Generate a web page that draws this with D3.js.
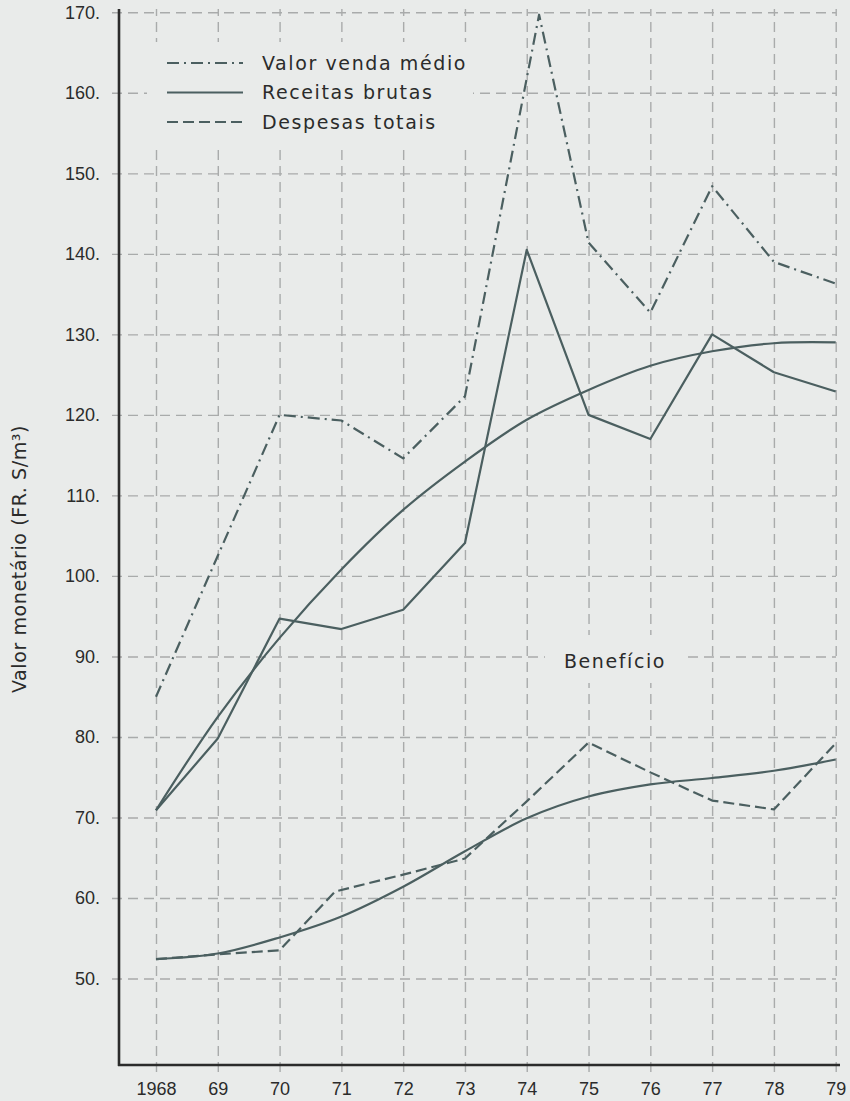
<!DOCTYPE html>
<html>
<head>
<meta charset="utf-8">
<script src="https://cdn.jsdelivr.net/npm/d3@7"></script>
<style>
  html, body { margin: 0; padding: 0; background: #e9ebea; }
  svg { display: block; font-family: "Inter", "DejaVu Sans", sans-serif; }
  .wide { font-family: "DejaVu Sans", sans-serif; }
</style>
</head>
<body>
<svg id="chart" width="850" height="1101"></svg>
<script>
// valores
const years = [1968, 1969, 1970, 1971, 1972, 1973, 1974, 1975, 1976, 1977, 1978, 1979];
const xTickLabels = ["1968", "69", "70", "71", "72", "73", "74", "75", "76", "77", "78", "79"];
const yTicks = [50, 60, 70, 80, 90, 100, 110, 120, 130, 140, 150, 160, 170];

const valorVendaYears = [1968, 1969, 1970, 1971, 1972, 1973, 1974.2, 1975, 1976, 1977, 1978, 1979];
const valorVenda = [85.0, 102.5, 120.0, 119.3, 114.6, 122.3, 169.7, 141.4, 132.7, 148.4, 139.0, 136.3];

const receitas = [70.9, 79.8, 94.7, 93.4, 95.8, 104.1, 140.5, 120.0, 117.0, 130.0, 125.3, 122.9];
const receitasTend = [70.9, 82.5, 92.3, 100.8, 108.2, 114.2, 119.4, 123.1, 126.1, 127.9, 128.9, 129.0];

const despesasYears = [1968, 1969, 1970, 1970.9, 1972, 1973, 1974, 1975, 1976, 1977, 1978, 1979];
const despesas = [52.4, 53.0, 53.5, 60.8, 62.9, 64.9, 72.0, 79.3, 75.6, 72.1, 71.0, 79.2];
const despesasTend = [52.4, 53.1, 55.1, 57.7, 61.4, 65.8, 69.9, 72.6, 74.1, 74.9, 75.8, 77.2];

const legendItems = ["Valor venda médio", "Receitas brutas", "Despesas totais"];

const bg = "#e9ebea", lineColor = "#4b5f60", gridColor = "#a9abab", ink = "#2b2b2b";
const dashDot = "12,5,2,5", dashed = "11,5";

const svg = d3.select("#chart");
const x = d3.scaleLinear().domain([1968, 1979]).range([156, 835.7]);
const y = d3.scaleLinear().domain([50, 170]).range([978.5, 12.3]);

// grade + eixos
const gy = svg.append("g")
    .attr("transform", "translate(112,0)")
    .call(d3.axisLeft(y).tickValues(yTicks).tickFormat(d => d + ".").tickSize(-724).tickPadding(12));
gy.select(".domain").remove();
gy.selectAll(".tick line").attr("stroke", gridColor).attr("stroke-width", 1.4).attr("stroke-dasharray", "10,6");
gy.selectAll(".tick text").attr("fill", ink).attr("font-size", 18);

const gx = svg.append("g")
    .attr("transform", "translate(0,1072)")
    .call(d3.axisBottom(x).tickValues(years).tickFormat((d, i) => xTickLabels[i]).tickSize(-1063).tickPadding(10));
gx.select(".domain").remove();
gx.selectAll(".tick line").attr("stroke", gridColor).attr("stroke-width", 1.4).attr("stroke-dasharray", "10,6");
gx.selectAll(".tick text").attr("fill", ink).attr("font-size", 18);

// fundos que escondem a grade
svg.append("rect").attr("x", 147).attr("y", 42).attr("width", 326).attr("height", 107).attr("fill", bg);
svg.append("rect").attr("x", 545).attr("y", 635).attr("width", 140).attr("height", 48).attr("fill", bg);

// linhas dos eixos
svg.append("line").attr("x1", 119).attr("x2", 119).attr("y1", 9).attr("y2", 1066)
    .attr("stroke", ink).attr("stroke-width", 2.6);
svg.append("line").attr("x1", 118).attr("x2", 840).attr("y1", 1065).attr("y2", 1065)
    .attr("stroke", ink).attr("stroke-width", 2.6);

const lineLinear = d3.line().x(d => x(d[0])).y(d => y(d[1]));
const lineSmooth = d3.line().x(d => x(d[0])).y(d => y(d[1])).curve(d3.curveCatmullRom.alpha(0.5));

const series = [
  { data: d3.zip(valorVendaYears, valorVenda), gen: lineLinear, dash: dashDot },
  { data: d3.zip(years, receitas), gen: lineLinear, dash: null },
  { data: d3.zip(years, receitasTend), gen: lineSmooth, dash: null },
  { data: d3.zip(despesasYears, despesas), gen: lineLinear, dash: dashed },
  { data: d3.zip(years, despesasTend), gen: lineSmooth, dash: null }
];

svg.append("g").selectAll("path")
    .data(series)
    .join("path")
    .attr("d", d => d.gen(d.data))
    .attr("fill", "none")
    .attr("stroke", lineColor)
    .attr("stroke-width", 2.2)
    .attr("stroke-linejoin", "round")
    .attr("stroke-dasharray", d => d.dash);

// legenda
const legendDash = [dashDot, null, dashed];
const lg = svg.append("g").selectAll("g")
    .data(legendItems)
    .join("g")
    .attr("transform", (d, i) => `translate(0,${63 + i * 29.5})`);
lg.append("line")
    .attr("x1", 167).attr("x2", 243)
    .attr("stroke", lineColor).attr("stroke-width", 2.2)
    .attr("stroke-dasharray", (d, i) => legendDash[i]);
lg.append("text")
    .attr("class", "wide")
    .attr("x", 262).attr("dy", "0.36em")
    .attr("fill", ink).attr("font-size", 19).attr("letter-spacing", 1.6)
    .text(d => d);

svg.append("text")
    .attr("class", "wide")
    .attr("x", 615).attr("y", 661).attr("dy", "0.36em")
    .attr("text-anchor", "middle")
    .attr("fill", ink).attr("font-size", 19).attr("letter-spacing", 1.6)
    .text("Benefício");

svg.append("text")
    .attr("class", "wide")
    .attr("transform", "translate(26,559) rotate(-90)")
    .attr("text-anchor", "middle")
    .attr("fill", ink).attr("font-size", 19).attr("letter-spacing", 0.6)
    .text("Valor monetário (FR. S/m³)");
</script>
</body>
</html>
